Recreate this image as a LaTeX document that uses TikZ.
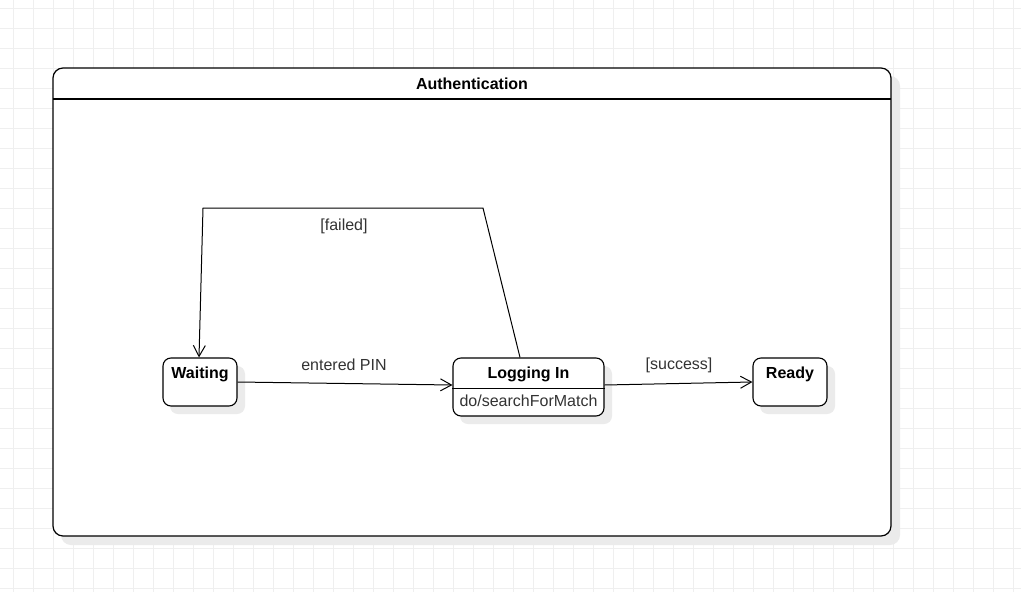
\documentclass[tikz,border=0pt]{standalone}
\usepackage{fontspec}
\setmainfont{Liberation Sans}
\usetikzlibrary{arrows.meta}
\definecolor{gridc}{HTML}{EFEFEF}
\definecolor{shadowc}{HTML}{EBEBEB}
\definecolor{txt}{HTML}{333333}
\tikzset{
  statebox/.style={draw=black, line width=1.1pt, fill=white, rounded corners=8pt, inner sep=0pt},
  sttitle/.style={font=\fontsize{16}{19}\selectfont\bfseries, inner sep=0pt},
  sttext/.style={font=\fontsize{16}{19}\selectfont, text=txt, inner sep=0pt},
  trans/.style={draw=black, line width=1pt, -{Straight Barb[length=11pt,width=12pt,line width=1pt]}},
  shadowbox/.style={fill=shadowc, draw=none, rounded corners=8pt}
}
\begin{document}
\begin{tikzpicture}[x=1pt,y=-1pt]
\useasboundingbox (0,0) rectangle (1021,592);
\fill[white] (0,0) rectangle (1021,592);
% grid
\foreach \gx in {13.3,33.3,...,1021} { \draw[gridc, line width=0.8pt] (\gx,0) -- (\gx,592); }
\foreach \gy in {8,28,...,592} { \draw[gridc, line width=0.8pt] (0,\gy) -- (1021,\gy); }
% container
\fill[shadowc, rounded corners=10pt] (61,76) rectangle (900,545);
\node[draw=black, line width=1.2pt, fill=white, rounded corners=10pt, minimum width=838pt, minimum height=468pt, inner sep=0pt] (container) at (472,302) {};
\coordinate (hl) at (53,99);
\coordinate (hr) at (891,99);
\draw[black, line width=1.1pt] (hl) -- (hr);
\node[sttitle] (ctitle) at (472,84) {Authentication};
% shadows of states
\fill[shadowc, rounded corners=8pt] (170,366) rectangle (245,414);
\fill[shadowc, rounded corners=8pt] (460,366) rectangle (612,424);
\fill[shadowc, rounded corners=8pt] (760,366) rectangle (835,414);
% states
\node[statebox, minimum width=74pt, minimum height=48pt] (waiting) at (200,382) {};
\node[sttitle] (waitingt) at ([yshift=-17pt]waiting.north) {Waiting};
\node[statebox, minimum width=151pt, minimum height=58pt] (login) at (528.5,387) {};
\draw[black, line width=1pt] ([yshift=-1pt]login.west) -- ([yshift=-1pt]login.east);
\node[sttitle] (logint) at ([yshift=-17pt]login.north) {Logging In};
\node[sttext] (logind) at ([yshift=15.5pt]login.south) {do/searchForMatch};
\node[statebox, minimum width=74pt, minimum height=48pt] (ready) at (790,382) {};
\node[sttitle] (readyt) at ([yshift=-17pt]ready.north) {Ready};
% transitions
\draw[trans] (waiting.east) -- ([yshift=2pt]login.west);
\node[sttext] (lpin) at (344,364.5) {entered PIN};
\draw[trans] ([yshift=2pt]login.east) -- (ready.west);
\node[sttext] (lsucc) at (679,365.5) {[success]};
\coordinate (f1) at (483,208);
\coordinate (f2) at (203,208);
\draw[trans] ([xshift=-8.5pt]login.north) -- (f1) -- (f2) -- ([xshift=-1pt]waiting.north);
\node[sttext] (lfail) at (344,226.5) {[failed]};
\end{tikzpicture}
\end{document}
